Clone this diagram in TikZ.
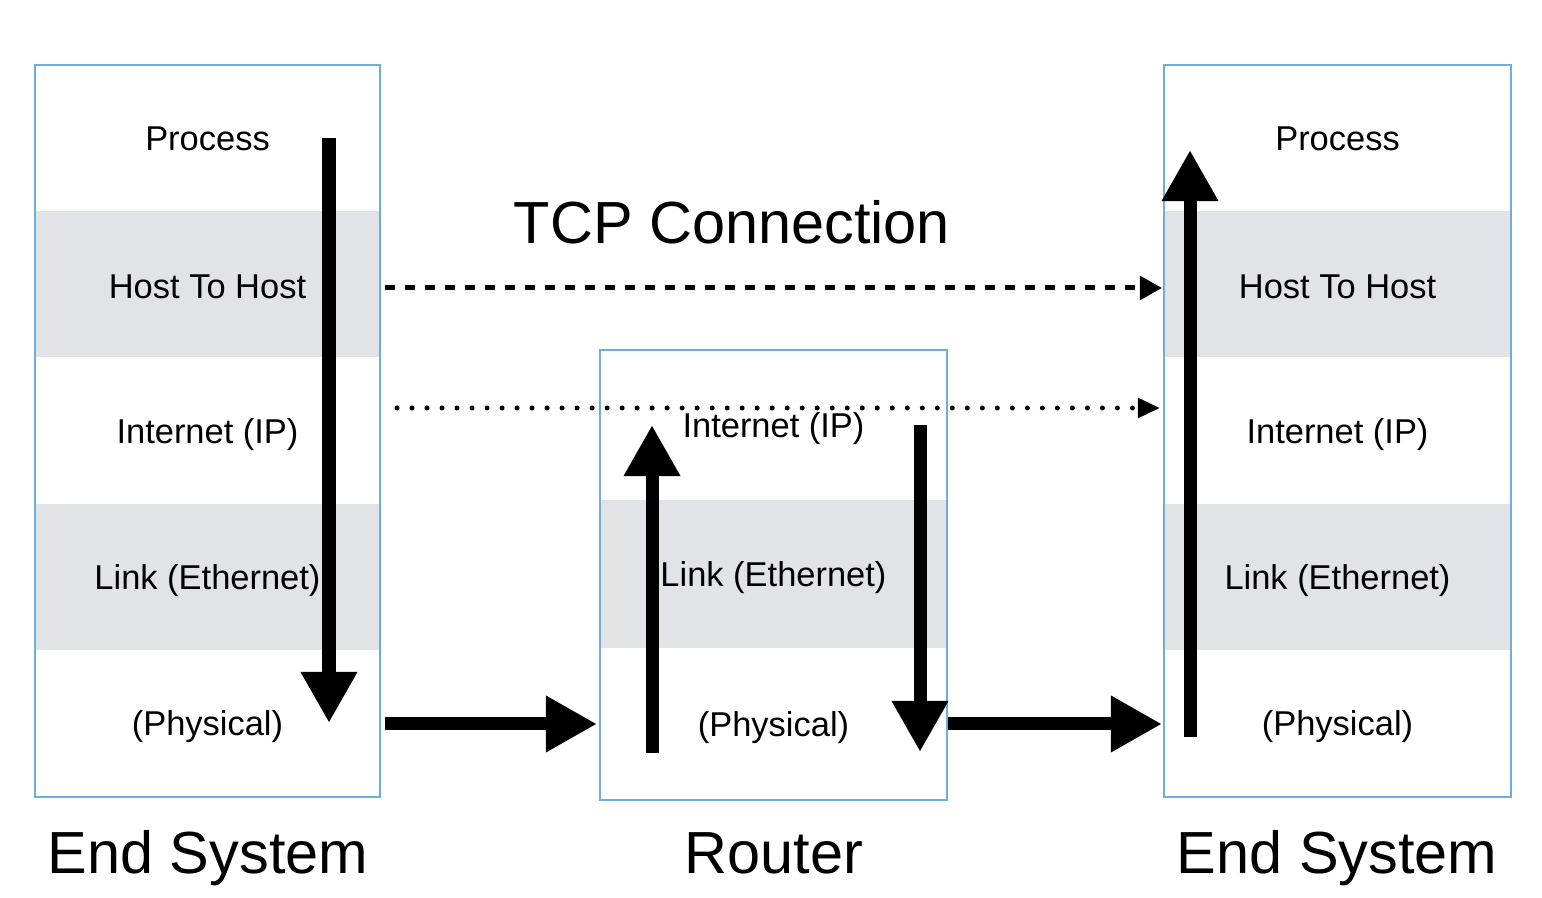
\documentclass[tikz,border=0pt]{standalone}
\usepackage{fontspec}
\setmainfont{Liberation Sans}
\usetikzlibrary{arrows.meta}
\definecolor{bandgray}{RGB}{225,227,230}
\definecolor{frameblue}{RGB}{110,175,218}
\tikzset{
  band/.style={rectangle, minimum width=3.45cm, minimum height=1.46cm, inner sep=0pt,
    font=\fontsize{9.8pt}{12pt}\selectfont, text height=7.05pt, text depth=0pt},
  grayband/.style={band, fill=bandgray},
  rband/.style={band, minimum width=3.46cm, minimum height=1.50cm},
  rgrayband/.style={rband, fill=bandgray, minimum height=1.48cm},
  frame/.style={rectangle, draw=frameblue, line width=0.02cm, inner sep=0pt, fill=none},
  bigarrow/.style={line width=0.13cm, -{Triangle[length=0.51cm,width=0.53cm]}},
  dashedarrow/.style={line width=0.05cm, dash pattern=on 0.1cm off 0.1cm, -{Triangle[length=0.22cm,width=0.23cm]}},
  dottedarrow/.style={line width=0.05cm, line cap=round, dash pattern=on 0pt off 0.15cm, -{Triangle[length=0.22cm,width=0.19cm]}},
  bigtext/.style={font=\fontsize{16.9pt}{20pt}\selectfont, inner sep=0pt, text height=12.1pt, text depth=0pt},
}
\begin{document}
\begin{tikzpicture}[x=0.01cm,y=-0.01cm]
\useasboundingbox (0,0) rectangle (1542,898);
% left end system
\node[band]     (lp) at (207.5,138)   {Process};
\node[grayband] (lh) at (207.5,284)   {\raisebox{-0.6pt}{Host To Host}};
\node[band]     (li) at (207.5,431)   {Internet (IP)};
\node[grayband] (ll) at (207.5,577)   {Link (Ethernet)};
\node[band]     (lph) at (207.5,723.5) {(Physical)};
\node[frame, minimum width=3.45cm, minimum height=7.32cm] (L) at (207.5,431) {};
% router
\node[rband]     (ri) at (773.5,425) {Internet (IP)};
\node[rgrayband] (rl) at (773.5,574) {Link (Ethernet)};
\node[rband]     (rph) at (773.5,724) {(Physical)};
\node[frame, minimum width=3.46cm, minimum height=4.50cm] (R) at (773.5,575) {};
% right end system
\node[band]     (ep) at (1337.5,138)   {Process};
\node[grayband] (eh) at (1337.5,284)   {\raisebox{-0.6pt}{Host To Host}};
\node[band]     (ei) at (1337.5,431)   {Internet (IP)};
\node[grayband] (el) at (1337.5,577)   {Link (Ethernet)};
\node[band]     (eph) at (1337.5,723.5) {(Physical)};
\node[frame, minimum width=3.47cm, minimum height=7.32cm] (E) at (1337.5,431) {};
% labels
\node[bigtext] (tcp) at (732,222) {TCP Connection};
\node[bigtext] (lsys) at (208,852) {End System};
\node[bigtext] (rsys) at (774,852) {Router};
\node[bigtext] (esys) at (1337,852) {End System};
% arrow endpoints
\coordinate (a1s) at (329,138);
\coordinate (a1e) at (329,723);
\coordinate (h1s) at (385,724);
\coordinate (h1e) at (597,724);
\coordinate (r1s) at (652,753);
\coordinate (r1e) at (652,425);
\coordinate (r2s) at (920,425);
\coordinate (r2e) at (920,752);
\coordinate (h2s) at (948,724);
\coordinate (h2e) at (1162,724);
\coordinate (e1s) at (1190,737);
\coordinate (e1e) at (1190,150);
\coordinate (ds) at (385,288);
\coordinate (de) at (1162,288);
\coordinate (os) at (397,408);
\coordinate (oe) at (1160,408);
% arrows
\draw[bigarrow] (a1s) -- (a1e);
\draw[bigarrow] (h1s) -- (h1e);
\draw[bigarrow] (r1s) -- (r1e);
\draw[bigarrow] (r2s) -- (r2e);
\draw[bigarrow] (h2s) -- (h2e);
\draw[bigarrow] (e1s) -- (e1e);
\draw[dashedarrow] (ds) -- (de);
\draw[dottedarrow] (os) -- (oe);
\end{tikzpicture}
\end{document}
